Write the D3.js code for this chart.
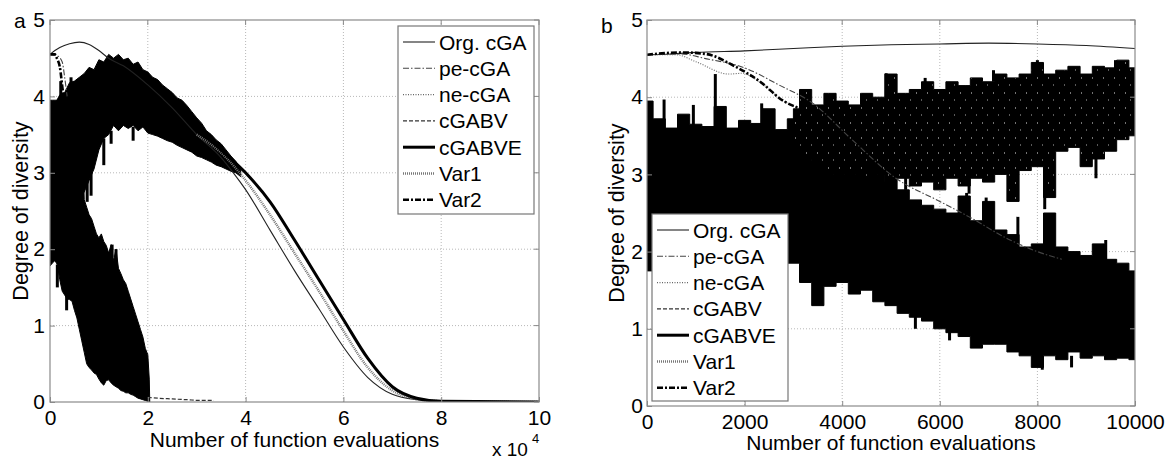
<!DOCTYPE html>
<html><head><meta charset="utf-8">
<script src="https://cdn.jsdelivr.net/npm/d3@7"></script>
<style>
body{margin:0;background:#fff;}
text{font-family:"Liberation Sans",Arial,sans-serif;fill:#000;}
</style></head><body>
<svg id="c" width="1168" height="459"></svg>
<script>
// ---------- shared ----------
const seriesNames = ["Org. cGA","pe-cGA","ne-cGA","cGABV","cGABVE","Var1","Var2"];
const yTicks = [0,1,2,3,4,5];

// ---------- panel a (x: function evaluations) ----------
const aXTicks = [0,20000,40000,60000,80000,100000];
const aXTickLabels = ["0","2","4","6","8","10"];
const aOrgCGA = [[0,4.55],[1000,4.6],[2000,4.64],[4000,4.69],[6000,4.71],[8000,4.68],[10000,4.6],[12000,4.5],[15000,4.4],[20000,4.15],[25000,3.85],[30000,3.5],[35000,3.2],[37500,3.0],[40000,2.78],[45000,2.25],[50000,1.72],[55000,1.22],[60000,0.72],[65000,0.32],[70000,0.1],[75000,0.03],[80000,0.01],[100000,0]];
const aPeCGA = [[0,4.55],[1500,4.53],[2500,4.45],[3000,4.25],[3500,4.0]];
const aVar2 = [[0,4.55],[1000,4.55],[1400,4.5],[2000,4.39],[2700,4.04],[3200,3.9]];
const aVar1 = [[30000,3.5],[36000,3.2],[40000,2.9],[45000,2.45],[50000,1.95],[55000,1.45],[60000,0.93],[65000,0.45],[70000,0.15],[75000,0.04],[80000,0.01],[100000,0]];
const aCGABVE = [[30000,3.6],[35000,3.3],[40000,3.0],[45000,2.62],[50000,2.12],[55000,1.6],[60000,1.08],[65000,0.57],[70000,0.2],[75000,0.05],[80000,0.01],[100000,0]];
const aCGABVTail = [[20000,0.06],[22000,0.05],[25000,0.04],[28000,0.03],[31000,0.02],[33500,0.02]];
// noisy envelopes [x, low, high]
const aBandNeCGA = [[0,2.6,3.95],[1000,2.6,3.9],[2000,2.6,4.02],[3000,2.6,4.05],[4000,2.6,4.18],[5000,2.6,4.2],[6000,2.65,4.25],
 [7000,2.75,4.3],[8000,2.9,4.38],[9000,3.05,4.35],[10000,3.3,4.48],[11000,3.45,4.45],[12000,3.5,4.55],[13000,3.62,4.5],[14000,3.55,4.55],
 [15000,3.62,4.48],[16000,3.58,4.5],[17000,3.62,4.42],[18000,3.55,4.45],[19000,3.6,4.35],[20000,3.52,4.32],[21000,3.5,4.25],[22000,3.48,4.22],
 [23000,3.45,4.15],[24000,3.42,4.1],[25000,3.4,4.05],[26000,3.36,3.98],[27000,3.33,3.95],[28000,3.3,3.88],[29000,3.27,3.8],[30000,3.22,3.72],
 [31000,3.2,3.65],[32000,3.17,3.55],[33000,3.14,3.5],[34000,3.1,3.43],[35000,3.08,3.38],[36000,3.05,3.3],[37000,3.02,3.22],[38000,3.0,3.15],[39000,2.95,3.05]];
const aBandCGABV = [[0,1.78,3.95],[500,1.82,3.95],[1000,1.85,3.95],[1500,1.8,3.95],[2000,1.6,3.95],[2500,1.45,3.95],[3000,1.4,3.95],[3500,1.35,3.95],
 [4000,1.34,3.95],[4500,1.32,3.95],[5000,1.2,3.95],[5500,1.1,3.95],[6000,0.95,3.95],[6500,0.8,3.9],[7000,0.65,2.65],[7500,0.5,2.55],[8000,0.45,2.45],
 [8500,0.42,2.4],[9000,0.38,2.3],[9500,0.36,2.2],[10000,0.3,2.15],[10500,0.25,2.2],[11000,0.22,2.1],[11500,0.28,2.05],[12000,0.29,1.95],
 [12500,0.25,2.06],[13000,0.22,1.85],[13500,0.2,2.0],[14000,0.18,1.75],[14500,0.15,1.68],[15000,0.14,1.6],[15500,0.12,1.55],[16000,0.12,1.45],
 [16500,0.1,1.35],[17000,0.09,1.25],[17500,0.07,1.15],[18000,0.05,1.05],[18500,0.04,0.95],[19000,0.03,0.85],[19500,0.02,0.7],[20000,0.01,0.62],
 [20300,0,0.3],[20400,0,0]];
// spikes [x, from, to]
const aSpikes = [[7600,2.9,2.62],[8400,3.0,2.7],[11000,3.45,3.1],[12500,3.55,3.38],[17000,3.6,3.42],[12700,1.9,2.06],[13500,1.8,2.0],
 [2200,3.95,4.2],[4300,4.1,4.25],[1500,1.8,1.5],[3400,1.4,1.2]];

// ---------- panel b ----------
const bXTicks = [0,2000,4000,6000,8000,10000];
const bXTickLabels = ["0","2000","4000","6000","8000","10000"];
const bOrgCGA = [[0,4.55],[500,4.56],[1000,4.58],[2000,4.6],[3000,4.63],[4000,4.66],[5000,4.68],[6000,4.69],[7000,4.7],[8000,4.69],[9000,4.67],[10000,4.63]];
const bPeCGA = [[0,4.55],[700,4.56],[1200,4.5],[2000,4.38],[2700,4.16],[3400,3.92],[4200,3.45],[5100,2.95],[6000,2.65],[6600,2.45],[7440,2.15],[8000,2.0],[8500,1.9]];
const bNeCGA = [[0,4.55],[600,4.55],[1000,4.46],[1675,4.3],[1950,4.31],[2300,4.2],[2800,3.95],[3100,3.86]];
const bVar2 = [[0,4.55],[700,4.58],[1200,4.56],[1800,4.4],[2300,4.21],[2800,3.95],[3100,3.86],[3300,3.8]];
const bBandCGABV = [[3000,3.3,3.85],[3250,3.2,4.1],[3500,3.1,3.9],[3750,3.0,4.05],[4000,3.0,3.95],[4250,3.0,3.9],[4500,2.95,4.05],
 [4750,3.0,4.0],[5000,2.9,4.3],[5250,2.95,4.05],[5500,2.85,4.1],[5750,2.9,4.2],[6000,2.8,4.1],[6250,2.95,4.2],[6500,2.85,4.15],
 [6750,2.95,4.25],[7000,2.9,4.2],[7250,3.0,4.3],[7500,2.65,4.25],[7750,3.05,4.3],[8000,3.1,4.45],[8250,2.7,4.3],[8500,3.3,4.35],
 [8750,3.35,4.4],[9000,3.1,4.3],[9250,3.2,4.4],[9500,3.3,4.38],[9750,3.45,4.48],[10000,3.5,4.38]];
const bBandCGABVE = [[0,1.75,3.95],[250,2.0,3.72],[500,2.05,3.6],[750,2.0,3.78],[1000,2.0,3.65],[1250,1.95,3.62],[1500,2.0,3.88],
 [1750,1.95,3.6],[2000,1.95,3.7],[2250,1.9,3.66],[2500,1.95,3.85],[2750,1.9,3.58],[3000,1.85,3.72],[3250,1.6,3.6],[3500,1.3,3.5],
 [3750,1.55,3.45],[4000,1.6,3.4],[4250,1.45,3.3],[4500,1.5,3.2],[4750,1.35,3.05],[5000,1.3,2.9],[5250,1.2,2.8],[5500,1.15,2.67],
 [5750,1.1,2.6],[6000,1.0,2.55],[6250,0.95,2.5],[6500,0.9,2.72],[6750,0.75,2.4],[7000,0.8,2.65],[7250,0.8,2.28],[7500,0.7,2.22],
 [7750,0.65,2.06],[8000,0.5,2.1],[8250,0.65,2.5],[8500,0.6,2.06],[8750,0.7,2.0],[9000,0.62,1.95],[9250,0.65,2.1],[9500,0.6,1.9],
 [9750,0.62,1.85],[10000,0.6,1.75]];
const bSpikes = [[350,3.6,3.97],[950,3.6,3.9],[1400,4.3,3.5],[2350,3.55,3.92],[6550,2.4,2.76],[6950,2.3,2.7],[7600,2.1,2.45],[8150,2.0,2.5],
  [9400,1.85,2.15],[5500,1.2,1.0],[6200,1.0,0.85],[8100,0.65,0.47],[8700,0.65,0.5],
  [4900,4.0,4.31],[5700,4.05,4.25],[7100,4.2,4.35],[8000,4.3,4.48],[9600,4.35,4.48],
  [4600,3.2,2.85],[5300,3.0,2.8],[6600,2.95,2.75],[8150,3.1,2.55],[9200,3.25,2.95]];

// ---------- styles ----------
const styles = {
  "Org. cGA": {w:1.1, dash:null, color:"#222"},
  "pe-cGA":   {w:1.1, dash:"6,2,1.5,2", color:"#444"},
  "ne-cGA":   {w:1.1, dash:"1,1.5", color:"#666"},
  "cGABV":    {w:1.2, dash:"4,2", color:"#333"},
  "cGABVE":   {w:3, dash:null, color:"#000"},
  "Var1":     {w:2.5, dash:"1,1", color:"#777"},
  "Var2":     {w:2.6, dash:"6,2,2,2", color:"#000"}
};

const svg = d3.select("#c");
const defs = svg.append("defs");
const pat = defs.append("pattern").attr("id","dashTex").attr("patternUnits","userSpaceOnUse").attr("width",11).attr("height",15);
pat.append("rect").attr("width",11).attr("height",15).attr("fill","#000");
pat.append("rect").attr("x",3).attr("y",2).attr("width",1).attr("height",2).attr("fill","#fff").attr("opacity",0.45);
pat.append("rect").attr("x",8).attr("y",9).attr("width",1).attr("height",2).attr("fill","#fff").attr("opacity",0.35);

function panel(cfg){
  const x = d3.scaleLinear().domain(cfg.xDomain).range([cfg.left, cfg.right]);
  const y = d3.scaleLinear().domain([0,5]).range([cfg.bottom, cfg.top]);
  const g = svg.append("g");
  g.selectAll(".gx").data(cfg.xTicks.slice(1,-1)).enter().append("line")
    .attr("x1", d=>x(d)).attr("x2", d=>x(d)).attr("y1", cfg.top).attr("y2", cfg.bottom)
    .attr("stroke","#b8b8b8").attr("stroke-width",1).attr("stroke-dasharray","1,2");
  g.selectAll(".gy").data(yTicks.slice(1,-1)).enter().append("line")
    .attr("x1", cfg.left).attr("x2", cfg.right).attr("y1", d=>y(d)).attr("y2", d=>y(d))
    .attr("stroke","#b8b8b8").attr("stroke-width",1).attr("stroke-dasharray","1,2");

  const clip = "clip"+cfg.id;
  defs.append("clipPath").attr("id",clip).append("rect")
    .attr("x",cfg.left).attr("y",cfg.top).attr("width",cfg.right-cfg.left).attr("height",cfg.bottom-cfg.top);
  const d = g.append("g").attr("clip-path","url(#"+clip+")");

  cfg.bands.forEach(b=>{
    const area = d3.area().x(p=>x(p[0])).y0(p=>y(p[1])).y1(p=>y(p[2])).curve(b.curve || d3.curveLinear);
    d.append("path").datum(b.data).attr("d", area).attr("fill", b.fill).attr("stroke", "#000").attr("stroke-width",1);
  });
  d.selectAll(".sp").data(cfg.spikes).enter().append("line")
    .attr("x1",p=>x(p[0])).attr("x2",p=>x(p[0])).attr("y1",p=>y(p[1])).attr("y2",p=>y(p[2]))
    .attr("stroke","#000").attr("stroke-width",3);
  cfg.lines.forEach(l=>{
    const s = styles[l.name];
    const line = d3.line().x(p=>x(p[0])).y(p=>y(p[1])).curve(d3.curveMonotoneX);
    d.append("path").datum(l.data).attr("d", line).attr("fill","none")
      .attr("stroke", s.color).attr("stroke-width", s.w)
      .attr("stroke-dasharray", s.dash);
  });

  g.append("rect").attr("x",cfg.left).attr("y",cfg.top).attr("width",cfg.right-cfg.left).attr("height",cfg.bottom-cfg.top)
    .attr("fill","none").attr("stroke","#8a8a8a").attr("stroke-width",1.2);

  const xa = d3.axisBottom(x).tickValues(cfg.xTicks).tickFormat((v,i)=>cfg.xTickLabels[i]).tickSizeInner(-5).tickSizeOuter(0).tickPadding(cfg.xPad);
  const gx = g.append("g").attr("transform","translate(0,"+cfg.bottom+")").call(xa);
  const ya = d3.axisLeft(y).tickValues(yTicks).tickFormat(d3.format("d")).tickSizeInner(-5).tickSizeOuter(0).tickPadding(cfg.yPad);
  const gy = g.append("g").attr("transform","translate("+cfg.left+",0)").call(ya);
  [gx,gy].forEach(a=>{
    a.select(".domain").remove();
    a.selectAll(".tick line").attr("stroke","#8a8a8a");
    a.selectAll("text").style("font-size","21px").style("font-family","'Liberation Sans',Arial,sans-serif").attr("fill","#000");
  });
  g.selectAll(".rt").data(yTicks).enter().append("line")
    .attr("x1",cfg.right).attr("x2",cfg.right-5).attr("y1",v=>y(v)).attr("y2",v=>y(v)).attr("stroke","#8a8a8a");
  g.selectAll(".tt").data(cfg.xTicks).enter().append("line")
    .attr("x1",v=>x(v)).attr("x2",v=>x(v)).attr("y1",cfg.top).attr("y2",cfg.top+5).attr("stroke","#8a8a8a");

  g.append("text").attr("x",(cfg.left+cfg.right)/2).attr("y",cfg.xTitleY).attr("text-anchor","middle")
    .style("font-size","21px").text("Number of function evaluations");
  g.append("text").attr("transform","translate("+cfg.yTitleX+","+((cfg.top+cfg.bottom)/2)+") rotate(-90)")
    .attr("text-anchor","middle").style("font-size","21.5px").text("Degree of diversity");
  g.append("text").attr("x",cfg.letterX).attr("y",cfg.letterY).style("font-size","21px").text(cfg.letter);

  const L = cfg.legend;
  const lg = g.append("g");
  lg.append("rect").attr("x",L.x).attr("y",L.y).attr("width",L.w).attr("height",L.h)
    .attr("fill","#fff").attr("stroke","#777").attr("stroke-width",1.2);
  seriesNames.forEach((n,i)=>{
    const s = styles[n];
    const yy = L.y + 16 + i*26.3;
    lg.append("line").attr("x1",L.x+5).attr("x2",L.x+37).attr("y1",yy).attr("y2",yy)
      .attr("stroke",s.color).attr("stroke-width",s.w).attr("stroke-dasharray",s.dash);
    lg.append("text").attr("x",L.x+41).attr("y",yy).attr("dy","0.36em").style("font-size","21px").text(n);
  });
  return {x,y,g};
}

const pa = panel({
  id:"a", left:50, right:539, top:20, bottom:402, xDomain:[0,100000],
  xTicks:aXTicks, xTickLabels:aXTickLabels, yPad:5, xPad:8,
  xTitleY:447, yTitleX:28, letter:"a", letterX:14, letterY:28,
  legend:{x:398,y:26,w:136,h:188},
  bands:[{data:aBandNeCGA, fill:"#000"},{data:aBandCGABV, fill:"#000"}],
  spikes:aSpikes,
  lines:[{name:"Org. cGA",data:aOrgCGA},{name:"pe-cGA",data:aPeCGA},{name:"cGABV",data:aCGABVTail},
         {name:"Var1",data:aVar1},{name:"cGABVE",data:aCGABVE},{name:"Var2",data:aVar2}]
});
pa.g.append("text").attr("x",492).attr("y",456).style("font-size","19px").text("x 10");
pa.g.append("text").attr("x",532).attr("y",443).style("font-size","13px").text("4");

panel({
  id:"b", left:647, right:1135, top:20, bottom:406, xDomain:[0,10000],
  xTicks:bXTicks, xTickLabels:bXTickLabels, yPad:4, xPad:8,
  xTitleY:450, yTitleX:624, letter:"b", letterX:601, letterY:33,
  legend:{x:652,y:214,w:136,h:187},
  bands:[{data:bBandCGABVE, fill:"#000", curve:d3.curveStep},{data:bBandCGABV, fill:"url(#dashTex)", curve:d3.curveStep}],
  spikes:bSpikes,
  lines:[{name:"Org. cGA",data:bOrgCGA},{name:"pe-cGA",data:bPeCGA},{name:"ne-cGA",data:bNeCGA},{name:"Var2",data:bVar2}]
});
</script></body></html>
